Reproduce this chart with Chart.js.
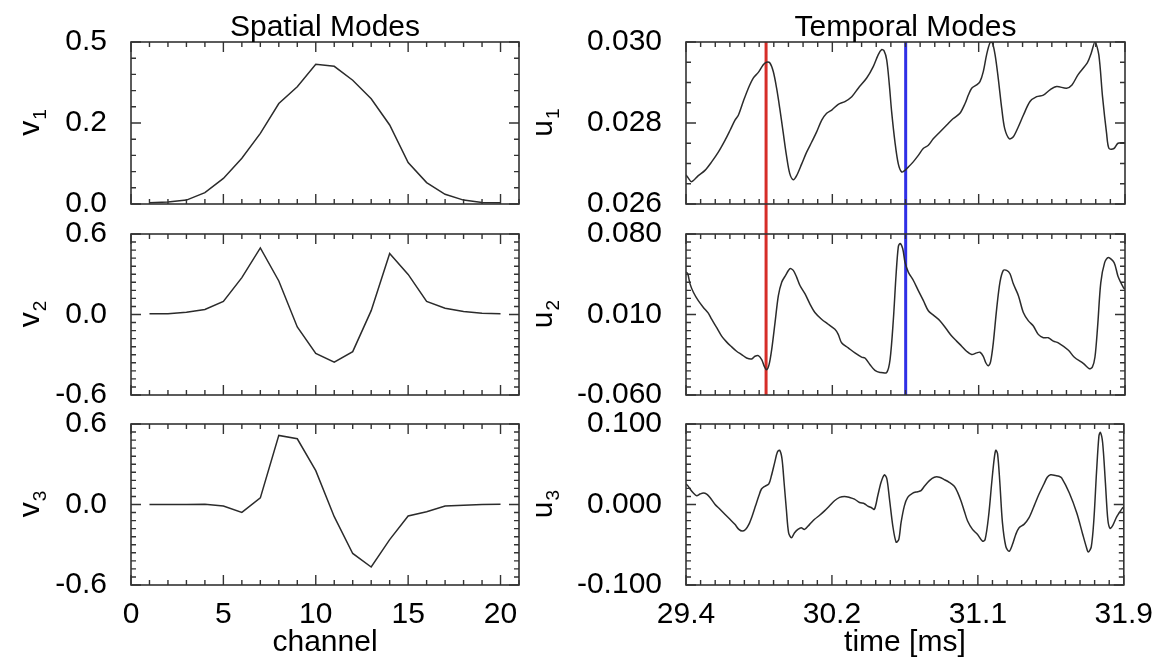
<!DOCTYPE html>
<html>
<head>
<meta charset="utf-8">
<script src="https://cdn.jsdelivr.net/npm/chart.js@4.4.1/dist/chart.umd.min.js"></script>
<style>
  html, body { margin: 0; padding: 0; background: #fff; }
  #wrap { position: relative; width: 1157px; height: 658px; overflow: hidden; }
  #wrap canvas { position: absolute; left: 0; top: 0; }
</style>
</head>
<body>
<div id="wrap">
  <canvas id="v1" width="1157" height="658"></canvas>
  <canvas id="v2" width="1157" height="658"></canvas>
  <canvas id="v3" width="1157" height="658"></canvas>
  <canvas id="u1" width="1157" height="658"></canvas>
  <canvas id="u2" width="1157" height="658"></canvas>
  <canvas id="u3" width="1157" height="658"></canvas>
</div>
<script>
// spatial modes, one value per channel
const channels = [1, 2, 3, 4, 5, 6, 7, 8, 9, 10, 11, 12, 13, 14, 15, 16, 17, 18, 19, 20];
const v1 = [0.004, 0.006, 0.012, 0.035, 0.079, 0.141, 0.218, 0.310, 0.362, 0.431,
            0.425, 0.382, 0.325, 0.244, 0.128, 0.066, 0.030, 0.012, 0.005, 0.004];
const v2 = [0.005, 0.005, 0.017, 0.037, 0.098, 0.275, 0.496, 0.250, -0.093, -0.290,
            -0.356, -0.277, 0.029, 0.454, 0.299, 0.098, 0.047, 0.022, 0.010, 0.005];
const v3 = [0.000, 0.000, 0.000, 0.002, -0.012, -0.059, 0.049, 0.515, 0.490, 0.252,
            -0.091, -0.365, -0.466, -0.262, -0.086, -0.054, -0.012, -0.005, 0.000, 0.002];

// temporal modes (time in ms)
const u1Time = [29.400, 29.410, 29.432, 29.470, 29.508, 29.546, 29.584, 29.622, 29.651, 29.679,
  29.698, 29.726, 29.755, 29.783, 29.812, 29.840, 29.859, 29.878, 29.897, 29.916,
  29.934, 29.953, 29.972, 29.991, 30.011, 30.030, 30.059, 30.087, 30.116, 30.144,
  30.173, 30.201, 30.230, 30.267, 30.305, 30.344, 30.381, 30.429, 30.467, 30.495,
  30.514, 30.528, 30.543, 30.558, 30.571, 30.590, 30.609, 30.628, 30.647, 30.666,
  30.694, 30.723, 30.751, 30.780, 30.808, 30.846, 30.885, 30.922, 30.960, 30.989,
  31.008, 31.027, 31.055, 31.074, 31.093, 31.112, 31.131, 31.143, 31.160, 31.178,
  31.198, 31.215, 31.241, 31.264, 31.292, 31.321, 31.359, 31.397, 31.435, 31.473,
  31.511, 31.567, 31.598, 31.632, 31.686, 31.708, 31.729, 31.751, 31.772, 31.795,
  31.809, 31.837, 31.860, 31.892, 31.900];
const u1 = [0.02672, 0.02666, 0.02655, 0.02670, 0.02683, 0.02704, 0.02728, 0.02757, 0.02782, 0.02807,
  0.02819, 0.02853, 0.02886, 0.02911, 0.02925, 0.02944, 0.02950, 0.02948, 0.02927, 0.02886,
  0.02836, 0.02778, 0.02720, 0.02675, 0.02660, 0.02670, 0.02699, 0.02728, 0.02753, 0.02778,
  0.02807, 0.02824, 0.02832, 0.02846, 0.02853, 0.02865, 0.02886, 0.02911, 0.02940, 0.02969,
  0.02981, 0.02978, 0.02956, 0.02894, 0.02828, 0.02753, 0.02699, 0.02679, 0.02683, 0.02691,
  0.02704, 0.02720, 0.02737, 0.02745, 0.02761, 0.02778, 0.02795, 0.02811, 0.02824, 0.02848,
  0.02869, 0.02886, 0.02894, 0.02902, 0.02927, 0.02969, 0.02998, 0.03000, 0.02969, 0.02911,
  0.02836, 0.02786, 0.02761, 0.02766, 0.02790, 0.02819, 0.02853, 0.02865, 0.02869, 0.02882,
  0.02890, 0.02886, 0.02894, 0.02919, 0.02949, 0.02973, 0.03000, 0.02968, 0.02865, 0.02775,
  0.02737, 0.02737, 0.02750, 0.02751, 0.02751];

const u2Time = [29.400, 29.410, 29.423, 29.442, 29.470, 29.499, 29.527, 29.546, 29.575, 29.603,
  29.632, 29.660, 29.688, 29.717, 29.745, 29.774, 29.793, 29.812, 29.831, 29.846,
  29.859, 29.873, 29.888, 29.907, 29.926, 29.945, 29.967, 29.992, 30.011, 30.030,
  30.049, 30.078, 30.106, 30.134, 30.172, 30.210, 30.248, 30.267, 30.286, 30.324,
  30.362, 30.400, 30.419, 30.448, 30.476, 30.505, 30.543, 30.562, 30.581, 30.596,
  30.609, 30.619, 30.634, 30.647, 30.666, 30.695, 30.723, 30.752, 30.780, 30.809,
  30.847, 30.884, 30.913, 30.941, 30.970, 30.998, 31.027, 31.055, 31.074, 31.093,
  31.108, 31.122, 31.135, 31.150, 31.169, 31.188, 31.207, 31.226, 31.245, 31.264,
  31.293, 31.321, 31.350, 31.378, 31.406, 31.435, 31.463, 31.492, 31.520, 31.578,
  31.610, 31.664, 31.697, 31.714, 31.729, 31.744, 31.762, 31.784, 31.805, 31.838,
  31.860, 31.892, 31.900];
const u2 = [0.0470, 0.04544, 0.03665, 0.02933, 0.02201, 0.01615, 0.01117, 0.00590, -0.00143, -0.00875,
  -0.01402, -0.01812, -0.02193, -0.02486, -0.02779, -0.02866, -0.02632, -0.02574, -0.02925, -0.03511,
  -0.03804, -0.03364, -0.02046, 0.00297, 0.02640, 0.03812, 0.04397, 0.04983, 0.04837, 0.04251,
  0.03519, 0.02786, 0.01908, 0.01175, 0.00590, 0.00150, -0.00289, -0.00728, -0.01461, -0.01900,
  -0.02340, -0.02700, -0.02779, -0.03364, -0.03862, -0.04038, -0.04038, -0.02925, 0.00590, 0.04397,
  0.06887, 0.07180, 0.06740, 0.05569, 0.04690, 0.03958, 0.03079, 0.02200, 0.01322, 0.00941,
  0.00443, -0.00289, -0.00875, -0.01314, -0.01754, -0.02193, -0.02486, -0.02339, -0.02281, -0.02632,
  -0.03218, -0.03452, -0.03071, -0.01461, 0.01468, 0.03812, 0.04837, 0.04837, 0.04544, 0.03665,
  0.02640, 0.01175, 0.00443, 0.00004, -0.00728, -0.01021, -0.01021, -0.01314, -0.01461, -0.02106,
  -0.02695, -0.03278, -0.03718, -0.03571, -0.02695, -0.00059, 0.03755, 0.05513, 0.05952, 0.05513,
  0.04335, 0.03316, 0.03200];

const u3Time = [29.400, 29.410, 29.423, 29.442, 29.461, 29.480, 29.499, 29.518, 29.537, 29.565,
  29.594, 29.622, 29.651, 29.679, 29.702, 29.721, 29.740, 29.759, 29.778, 29.797,
  29.816, 29.831, 29.850, 29.873, 29.888, 29.907, 29.922, 29.935, 29.948, 29.960,
  29.973, 29.986, 30.002, 30.020, 30.039, 30.058, 30.077, 30.106, 30.134, 30.163,
  30.191, 30.220, 30.248, 30.277, 30.305, 30.334, 30.362, 30.391, 30.419, 30.438,
  30.457, 30.476, 30.495, 30.514, 30.533, 30.547, 30.562, 30.581, 30.600, 30.615,
  30.628, 30.647, 30.666, 30.695, 30.723, 30.742, 30.761, 30.790, 30.818, 30.847,
  30.875, 30.903, 30.932, 30.951, 30.970, 30.989, 31.008, 31.036, 31.065, 31.093,
  31.108, 31.128, 31.146, 31.160, 31.169, 31.179, 31.192, 31.207, 31.226, 31.245,
  31.264, 31.283, 31.302, 31.330, 31.359, 31.388, 31.416, 31.444, 31.463, 31.482,
  31.511, 31.530, 31.545, 31.589, 31.632, 31.664, 31.686, 31.697, 31.714, 31.729,
  31.744, 31.758, 31.766, 31.779, 31.795, 31.809, 31.822, 31.838, 31.860, 31.892,
  31.900];
const u3 = [0.0255, 0.02343, 0.01925, 0.01423, 0.01088, 0.01297, 0.01423, 0.01297, 0.00879, 0.00042,
  -0.00586, -0.01213, -0.01841, -0.02468, -0.03096, -0.03305, -0.03096, -0.02468, -0.01422, -0.00167,
  0.01088, 0.01925, 0.02260, 0.02552, 0.03598, 0.05272, 0.06527, 0.06736, 0.05690, 0.02762,
  -0.00586, -0.03514, -0.04142, -0.03514, -0.03096, -0.02887, -0.03096, -0.02468, -0.01841, -0.01339,
  -0.00795, -0.00167, 0.00460, 0.00879, 0.01004, 0.00879, 0.00670, 0.00251, 0.00100, -0.00200,
  -0.00376, -0.00586, 0.01088, 0.02762, 0.03682, 0.03180, 0.00670, -0.02678, -0.04686, -0.04351,
  -0.02259, -0.00167, 0.00879, 0.01423, 0.01590, 0.01716, 0.02260, 0.02971, 0.03389, 0.03389,
  0.03096, 0.02762, 0.02260, 0.01506, 0.00460, -0.00795, -0.02050, -0.03096, -0.03724, -0.04560,
  -0.04351, -0.01422, 0.02762, 0.05690, 0.06736, 0.06318, 0.02762, -0.02259, -0.05188, -0.05816,
  -0.04979, -0.03724, -0.02887, -0.02468, -0.01632, -0.00167, 0.01297, 0.02552, 0.03389, 0.03682,
  0.03598, 0.03515, 0.03308, 0.01425, -0.01086, -0.03597, -0.05279, -0.05907, -0.05279, -0.01927,
  0.03936, 0.08531, 0.08958, 0.07702, 0.02680, -0.01927, -0.02969, -0.02555, -0.01513, -0.00458,
  -0.00300];

// vertical markers across u1/u2
const markerTimes = [29.856, 30.651];
const markerColors = ['#d62d28', '#2f2fe6'];

// ticks
const channelTicks = [0, 5, 10, 15, 20];
const channelTickLabels = ['0', '5', '10', '15', '20'];
const timeTicks = [29.4, 30.23333, 31.06667, 31.9];
const timeTickLabels = ['29.4', '30.2', '31.1', '31.9'];
const v1Ticks = [0, 0.25, 0.5];
const v1TickLabels = ['0.0', '0.2', '0.5'];
const v23Ticks = [-0.6, 0, 0.6];
const v23TickLabels = ['-0.6', '0.0', '0.6'];
const u1Ticks = [0.026, 0.028, 0.030];
const u1TickLabels = ['0.026', '0.028', '0.030'];
const u2Ticks = [-0.06, 0.01, 0.08];
const u2TickLabels = ['-0.060', '0.010', '0.080'];
const u3Ticks = [-0.1, 0, 0.1];
const u3TickLabels = ['-0.100', '0.000', '0.100'];

const FONT = '"Liberation Sans", Arial, Helvetica, sans-serif';
Chart.defaults.font.family = FONT;
Chart.defaults.font.size = 30;
Chart.defaults.color = '#000';

const W = 1157, H = 658, AXIS_W = 110, AXIS_H = 40;
const cols = [{ left: 131, right: 519, titleX: 39 }, { left: 686, right: 1125, titleX: 552 }];
const rows = [{ top: 42, bottom: 204 }, { top: 234, bottom: 395 }, { top: 424, bottom: 585 }];

const boxTicks = {
  id: 'boxTicks',
  afterDatasetsDraw(chart, args, o) {
    const { ctx, chartArea: a } = chart;
    const x = chart.scales.x, y = chart.scales.y;
    ctx.save();
    ctx.strokeStyle = '#333';
    ctx.lineWidth = 1.4;
    ctx.beginPath();
    const seg = (x1, y1, x2, y2) => { ctx.moveTo(x1, y1); ctx.lineTo(x2, y2); };
    const nx = Math.round((x.max - x.min) / o.xMinor);
    for (let i = 0; i <= nx; i++) {
      const px = x.getPixelForValue(x.min + i * o.xMinor);
      seg(px, a.bottom, px, a.bottom - 5);
      seg(px, a.top, px, a.top + 5);
    }
    x.ticks.forEach(t => {
      const px = x.getPixelForValue(t.value);
      seg(px, a.bottom, px, a.bottom - 10);
      seg(px, a.top, px, a.top + 10);
    });
    const ny = Math.round((y.max - y.min) / o.yMinor);
    for (let i = 0; i <= ny; i++) {
      const py = y.getPixelForValue(y.min + i * o.yMinor);
      seg(a.left, py, a.left + 5, py);
      seg(a.right, py, a.right - 5, py);
    }
    y.ticks.forEach(t => {
      const py = y.getPixelForValue(t.value);
      seg(a.left, py, a.left + 10, py);
      seg(a.right, py, a.right - 10, py);
    });
    ctx.stroke();
    ctx.lineWidth = 1.6;
    ctx.strokeRect(a.left, a.top, a.right - a.left, a.bottom - a.top);

    ctx.fillStyle = '#000';
    ctx.textBaseline = 'alphabetic';
    if (o.title) {
      ctx.font = '30px ' + FONT;
      ctx.textAlign = 'center';
      ctx.fillText(o.title, (a.left + a.right) / 2, 36);
    }
    if (o.xTitle) {
      ctx.font = '30px ' + FONT;
      ctx.textAlign = 'center';
      ctx.fillText(o.xTitle, (a.left + a.right) / 2, 651);
    }
    // y title with subscript, rotated
    ctx.translate(o.yTitleX, (a.top + a.bottom) / 2);
    ctx.rotate(-Math.PI / 2);
    ctx.textAlign = 'left';
    ctx.font = '30px ' + FONT;
    const w1 = ctx.measureText(o.yTitle).width;
    ctx.font = '19px ' + FONT;
    const w2 = ctx.measureText(o.ySub).width;
    const start = -(w1 + w2) / 2;
    ctx.font = '30px ' + FONT;
    ctx.fillText(o.yTitle, start, 0);
    ctx.font = '19px ' + FONT;
    ctx.fillText(o.ySub, start + w1 + 1, 7);
    ctx.restore();
  }
};

function toPoints(xs, ys) {
  return xs.map((v, i) => ({ x: v, y: ys[i] }));
}

function makePanel(id, p) {
  const col = cols[p.col], row = rows[p.row];
  const datasets = [{
    data: toPoints(p.xs, p.ys),
    showLine: true, pointRadius: 0, borderColor: '#2b2b2b', borderWidth: 1.5,
    tension: p.smooth ? 0.3 : 0
  }];
  (p.markers || []).forEach((t, i) => {
    datasets.push({
      data: [{ x: t, y: p.yMax }, { x: t, y: p.yMin - (p.yMax - p.yMin) }],
      showLine: true, pointRadius: 0, borderColor: markerColors[i], borderWidth: 3,
      clip: { left: 0, top: 0, right: 0, bottom: p.markerOverflow }
    });
  });
  new Chart(document.getElementById(id), {
    type: 'scatter',
    data: { datasets },
    options: {
      responsive: false,
      animation: false,
      events: [],
      layout: {
        padding: { left: col.left - AXIS_W, right: W - col.right, top: row.top, bottom: H - row.bottom - AXIS_H }
      },
      plugins: {
        legend: { display: false },
        tooltip: { enabled: false },
        boxTicks: {
          xMinor: p.xMinor, yMinor: p.yMinor, title: p.title, xTitle: p.xTitle,
          yTitle: p.yTitle, ySub: p.ySub, yTitleX: col.titleX
        }
      },
      scales: {
        x: {
          type: 'linear', min: p.xMin, max: p.xMax,
          grid: { display: false }, border: { display: false },
          ticks: {
            display: !!p.showX, padding: 4, maxRotation: 0, autoSkip: false,
            callback: (v, i) => p.xLabels[i]
          },
          afterBuildTicks: s => { s.ticks = p.xTicks.map(v => ({ value: v })); },
          afterFit: s => { s.height = AXIS_H; }
        },
        y: {
          type: 'linear', min: p.yMin, max: p.yMax,
          grid: { display: false }, border: { display: false },
          ticks: { padding: 16, autoSkip: false, callback: (v, i) => p.yLabels[i] },
          afterBuildTicks: s => { s.ticks = p.yTicks.map(v => ({ value: v })); },
          afterFit: s => { s.width = AXIS_W; }
        }
      }
    },
    plugins: [boxTicks]
  });
}

const chanAxis = { xMin: 0, xMax: 21, xMinor: 1, xTicks: channelTicks, xLabels: channelTickLabels };
const timeAxis = { xMin: 29.4, xMax: 31.9, xMinor: 2.5 / 30, xTicks: timeTicks, xLabels: timeTickLabels, smooth: true };

makePanel('v1', Object.assign({}, chanAxis, {
  col: 0, row: 0, xs: channels, ys: v1, yMin: 0, yMax: 0.5, yMinor: 0.05,
  yTicks: v1Ticks, yLabels: v1TickLabels, yTitle: 'v', ySub: '1', title: 'Spatial Modes'
}));
makePanel('v2', Object.assign({}, chanAxis, {
  col: 0, row: 1, xs: channels, ys: v2, yMin: -0.6, yMax: 0.6, yMinor: 0.06,
  yTicks: v23Ticks, yLabels: v23TickLabels, yTitle: 'v', ySub: '2'
}));
makePanel('v3', Object.assign({}, chanAxis, {
  col: 0, row: 2, xs: channels, ys: v3, yMin: -0.6, yMax: 0.6, yMinor: 0.06,
  yTicks: v23Ticks, yLabels: v23TickLabels, yTitle: 'v', ySub: '3',
  showX: true, xTitle: 'channel'
}));
makePanel('u1', Object.assign({}, timeAxis, {
  col: 1, row: 0, xs: u1Time, ys: u1, yMin: 0.026, yMax: 0.030, yMinor: 0.0005,
  yTicks: u1Ticks, yLabels: u1TickLabels, yTitle: 'u', ySub: '1', title: 'Temporal Modes',
  markers: markerTimes, markerOverflow: rows[1].top - rows[0].bottom
}));
makePanel('u2', Object.assign({}, timeAxis, {
  col: 1, row: 1, xs: u2Time, ys: u2, yMin: -0.06, yMax: 0.08, yMinor: 0.007,
  yTicks: u2Ticks, yLabels: u2TickLabels, yTitle: 'u', ySub: '2',
  markers: markerTimes, markerOverflow: 0
}));
makePanel('u3', Object.assign({}, timeAxis, {
  col: 1, row: 2, xs: u3Time, ys: u3, yMin: -0.1, yMax: 0.1, yMinor: 0.01,
  yTicks: u3Ticks, yLabels: u3TickLabels, yTitle: 'u', ySub: '3',
  showX: true, xTitle: 'time [ms]'
}));
</script>
</body>
</html>
